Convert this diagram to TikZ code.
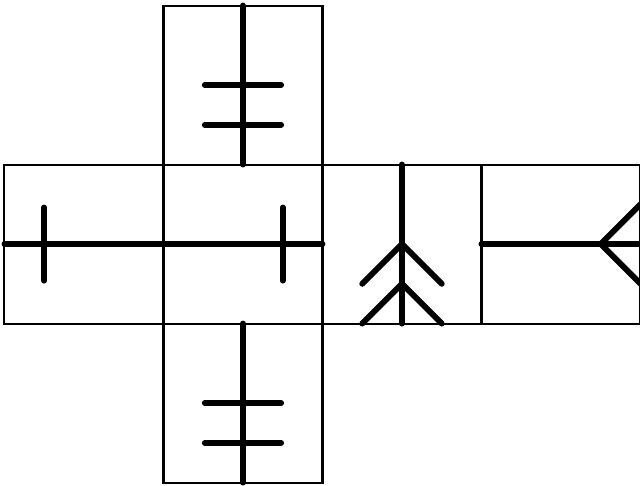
\documentclass[tikz,border=0pt]{standalone}
\usetikzlibrary{calc}

\begin{document}
\begin{tikzpicture}[x=2cm, y=2cm,
    facebox/.style={line width=0.75pt},
    glyph/.style={line width=2.1pt, line cap=round, line join=round}]
        \useasboundingbox (-0.028,-0.016) rectangle (3.997,3.035);

        % Faces of the net
        \draw[facebox] (1,2) rectangle (2,3);
        \foreach \i in {0,...,3}
            \draw[facebox] (\i,1) rectangle ++(1,1);
        \draw[facebox] (1,0) rectangle (2,1);

        % Top face
        \draw[glyph] (1.5,3) -- (1.5,2);
        \foreach \y in {2.5,2.25}
            \draw[glyph] (1.26,\y) -- (1.74,\y);

        % Left faces
        \draw[glyph] (0,1.5) -- (2,1.5);
        \draw[glyph] (0.25,1.27) -- (0.25,1.73);
        \draw[glyph] (1.75,1.27) -- (1.75,1.73);

        % Chevrons
        \draw[glyph] (2.5,2) -- (2.5,1);
        \foreach \y in {1.5,1.25}
            \draw[glyph] (2.25,\y-0.25) -- (2.5,\y) -- (2.75,\y-0.25);

        % Right face
        \draw[glyph] (3,1.5) -- (4,1.5);
        \draw[glyph] (4,1.75) -- (3.75,1.5) -- (4,1.25);

        % Bottom face
        \draw[glyph] (1.5,1) -- (1.5,0);
        \foreach \y in {0.5,0.25}
            \draw[glyph] (1.26,\y) -- (1.74,\y);
    \end{tikzpicture}
\end{document}
